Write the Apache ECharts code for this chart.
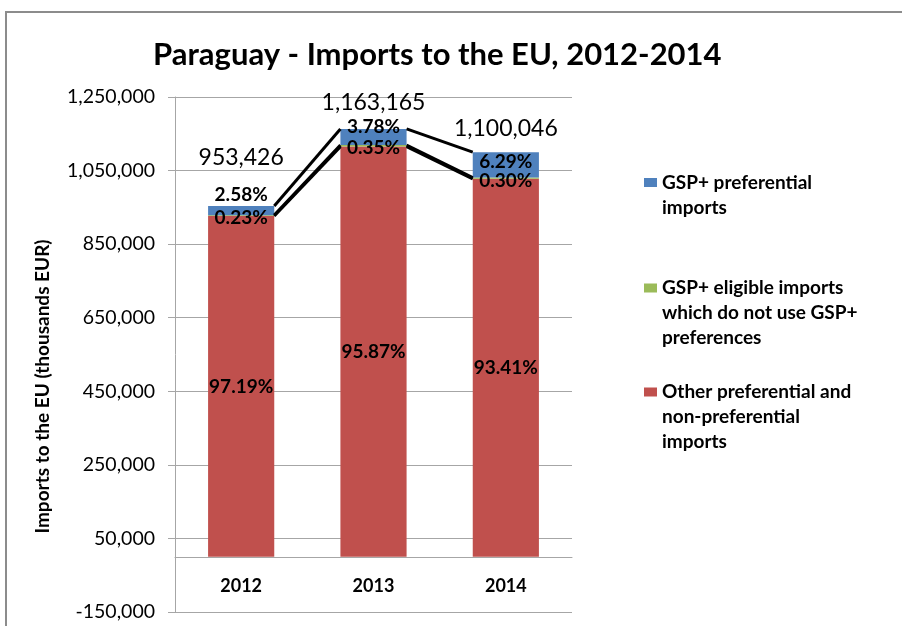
<!DOCTYPE html>
<html><head><meta charset="utf-8">
<script src="https://cdn.jsdelivr.net/npm/echarts@6/dist/echarts.min.js"></script>
<style>html,body{margin:0;padding:0;background:#fff}#c{width:902px;height:626px}</style>
</head><body><div id="c"></div>
<script>
// ---- data ----
const categories = ['2012', '2013', '2014'];
const totals = [953426, 1163165, 1100046];
const otherImports = [926614, 1115126, 1027553];
const eligibleUnused = [2193, 4071, 3300];
const gspPreferential = [24598, 43968, 69193];
const pctOther = ['97.19%', '95.87%', '93.41%'];
const pctEligible = ['0.23%', '0.35%', '0.30%'];
const pctGsp = ['2.58%', '3.78%', '6.29%'];
const seriesNames = [
  'GSP+ preferential imports',
  'GSP+ eligible imports which do not use GSP+ preferences',
  'Other preferential and non-preferential imports'
];
const legendLines = [
  ['GSP+ preferential', 'imports'],
  ['GSP+ eligible imports', 'which do not use GSP+', 'preferences'],
  ['Other preferential and', 'non-preferential', 'imports']
];
const yMin = -150000, yMax = 1250000, yStep = 200000;

// ---- helpers ----
function fmt(n) {
  const s = Math.abs(Math.round(n)).toString().replace(/\B(?=(\d{3})+(?!\d))/g, ',');
  return (n < 0 ? '-' : '') + s;
}
const FONT = 'Lato';
const C_BLUE = '#4F81BD', C_GREEN = '#9BBB59', C_RED = '#C0504D';

// cumulative tops for series lines
const cumRed = otherImports.slice();
const cumGreen = otherImports.map((v, i) => v + eligibleUnused[i]);
const cumBlue = totals.slice();
const lineData = [];
[cumRed, cumGreen, cumBlue].forEach(arr => {
  for (let i = 0; i < arr.length - 1; i++) lineData.push([i, arr[i], arr[i + 1]]);
});

const gspOffsets = [-16, -10, -3];
const totalOffsets = [-49, -26, -24];
const BAR_RATIO = 0.5;

const pctLabel = (arr) => ({
  show: true, position: 'inside', color: '#000', fontFamily: FONT,
  fontWeight: 'bold', fontSize: 19,
  formatter: p => arr[p.dataIndex]
});

const chart = echarts.init(document.getElementById('c'), null, {renderer: 'canvas'});
const LH = 25;
const iconCenters = [182.5, 288, 392];
const legends = [0, 1, 2].map(k => {
  const n = legendLines[k].length;
  const blanks = new Array(n - 1).fill('');
  return {
    data: [seriesNames[k]],
    orient: 'vertical',
    left: 644, top: iconCenters[k] - (2 * n - 1) * LH / 2,
    padding: 0,
    itemWidth: 13, itemHeight: 9,
    icon: 'rect',
    selectedMode: false,
    formatter: () => blanks.concat(legendLines[k]).join('\n'),
    textStyle: {fontFamily: FONT, fontWeight: 'bold', fontSize: 19, color: '#000', lineHeight: LH}
  };
});

chart.setOption({
  animation: false,
  backgroundColor: '#fff',
  title: {
    text: 'Paraguay - Imports to the EU, 2012-2014',
    left: 148, top: 34,
    textStyle: {fontFamily: FONT, fontWeight: 'bold', fontSize: 31, color: '#000'}
  },
  legend: legends,
  graphic: [{
    type: 'rect', shape: {x: 6, y: 12, width: 1000, height: 1000},
    style: {fill: 'none', stroke: '#8c8c8c', lineWidth: 2}, silent: true, z: -1
  }],
  grid: {left: 175, top: 97, right: 330, bottom: 14, containLabel: false, outerBoundsMode: 'none'},
  xAxis: {
    type: 'category', data: categories,
    offset: -55,
    axisLine: {show: true, onZero: false, lineStyle: {color: '#a6a6a6', width: 1}},
    axisTick: {show: false},
    axisLabel: {fontFamily: FONT, fontWeight: 'bold', fontSize: 18, color: '#000', margin: 20},
    splitLine: {show: false}
  },
  yAxis: {
    type: 'value', min: yMin, max: yMax, interval: yStep,
    name: 'Imports to the EU (thousands EUR)',
    nameLocation: 'middle', nameRotate: 90, nameGap: 123,
    nameTextStyle: {fontFamily: FONT, fontWeight: 'bold', fontSize: 19, color: '#000', padding: [0, 64, 0, 0]},
    axisLine: {show: true, lineStyle: {color: '#a6a6a6', width: 1}},
    axisTick: {show: true, length: 7, inside: false, lineStyle: {color: '#a6a6a6'}},
    axisLabel: {fontFamily: FONT, fontSize: 19.5, color: '#000', margin: 20, formatter: v => fmt(v)},
    splitLine: {show: true, lineStyle: {color: '#a6a6a6', width: 1}}
  },
  series: [
    {
      name: seriesNames[2], type: 'bar', stack: 'imp', barWidth: '50%',
      itemStyle: {color: C_RED}, data: otherImports,
      label: pctLabel(pctOther)
    },
    {
      name: seriesNames[1], type: 'bar', stack: 'imp', barWidth: '50%',
      itemStyle: {color: C_GREEN},
      data: eligibleUnused.map((v) => ({value: v, label: {offset: [0, 2.5]}})),
      label: pctLabel(pctEligible), z: 3
    },
    {
      name: seriesNames[0], type: 'bar', stack: 'imp', barWidth: '50%',
      itemStyle: {color: C_BLUE},
      data: gspPreferential.map((v, i) => ({value: v, label: {offset: [0, gspOffsets[i]]}})),
      label: pctLabel(pctGsp), z: 3
    },
    {
      name: 'totals', type: 'scatter', symbolSize: 0,
      itemStyle: {opacity: 1},
      data: totals.map((v, i) => ({value: [i, v], label: {offset: [0, totalOffsets[i]]}})),
      label: {show: true, position: 'inside', color: '#000', opacity: 1, fontFamily: FONT, fontSize: 23,
        formatter: p => fmt(p.value[1])},
      emphasis: {disabled: true},
      z: 5
    },
    {
      name: 'series lines', type: 'custom',
      encode: {x: 0, y: [1, 2]},
      data: lineData, z: 4,
      renderItem: (params, api) => {
        const i = api.value(0);
        const p1 = api.coord([i, api.value(1)]);
        const p2 = api.coord([i + 1, api.value(2)]);
        const half = api.size([1, 0])[0] * BAR_RATIO / 2;
        return {
          type: 'line',
          shape: {x1: p1[0] + half, y1: p1[1], x2: p2[0] - half, y2: p2[1]},
          style: {stroke: '#000', lineWidth: 3}
        };
      }
    }
  ]
});
</script>
</body></html>
